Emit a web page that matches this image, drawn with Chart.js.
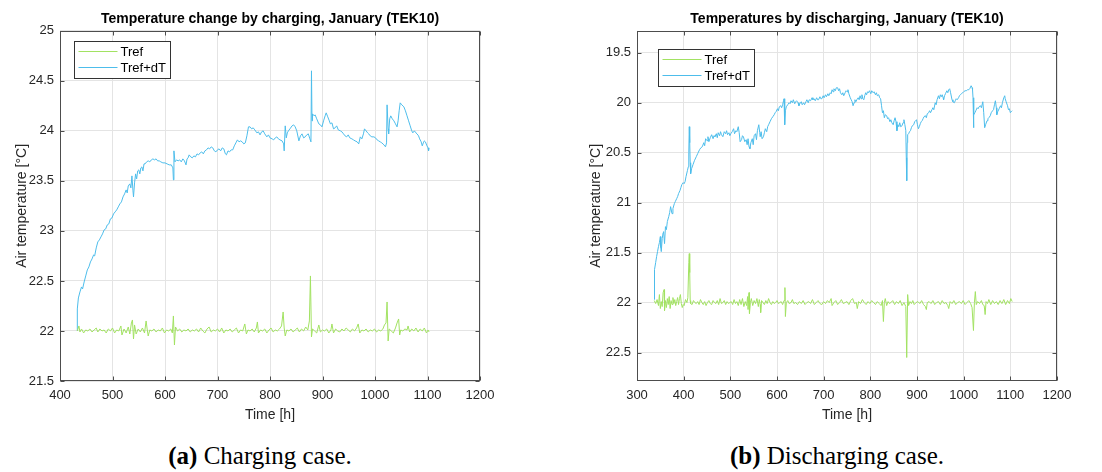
<!DOCTYPE html>
<html>
<head>
<meta charset="utf-8">
<title>TEK10 temperatures</title>
<script src="https://cdn.jsdelivr.net/npm/chart.js@4.4.1/dist/chart.umd.min.js"></script>
<style>
  html, body { margin: 0; padding: 0; background: #fff; overflow: hidden; }
  #page { position: relative; width: 1102px; height: 472px; }
  .panel { position: absolute; top: 0; width: 551px; height: 430px; }
  .caption {
    position: absolute; top: 441px; transform: translateX(-50%);
    font-family: "Liberation Serif", "Times New Roman", serif;
    font-size: 25px; line-height: 30px; color: #000; white-space: nowrap;
  }
</style>
</head>
<body>
<div id="page">
  <div class="panel" style="left:0"><canvas id="chargeChart" width="551" height="430"></canvas></div>
  <div class="panel" style="left:551px"><canvas id="dischargeChart" width="551" height="430"></canvas></div>
  <div class="caption" style="left:260px"><b>(a)</b> Charging case.</div>
  <div class="caption" style="left:837px"><b>(b)</b> Discharging case.</div>
</div>
<script>
// ---- charging case (a) ----
const chargeRefHours = [
  433, 436, 438, 441, 445, 449, 453, 457, 461, 465, 469, 472, 476, 480, 484, 488, 492, 496, 500, 504,
  508, 512, 516, 518, 522, 526, 530, 533, 536, 538, 540, 542, 545, 549, 553, 557, 561, 564, 566, 568,
  571, 575, 579, 583, 587, 591, 595, 599, 603, 607, 611, 614, 616, 618, 620, 624, 628, 632, 636, 640,
  644, 648, 652, 656, 660, 664, 668, 672, 676, 680, 684, 688, 692, 696, 700, 704, 708, 712, 716, 720,
  724, 728, 732, 736, 740, 744, 748, 752, 755, 758, 762, 766, 770, 774, 776, 778, 782, 786, 790, 794,
  798, 802, 806, 810, 814, 818, 822, 825, 827, 829, 832, 836, 840, 844, 848, 852, 856, 860, 864, 868,
  872, 875, 877, 879, 881, 885, 889, 893, 896, 900, 904, 908, 912, 916, 918, 921, 925, 929, 933, 937,
  941, 945, 949, 953, 957, 961, 965, 968, 971, 975, 979, 983, 987, 991, 995, 999, 1003, 1007, 1011, 1015,
  1018, 1021, 1023, 1025, 1027, 1031, 1035, 1039, 1042, 1045, 1047, 1049, 1053, 1057, 1061, 1063, 1066, 1070, 1074, 1078,
  1082, 1086, 1090, 1094, 1098, 1101, 1103
];
const chargeRefTemp = [
  22.00, 22.05, 21.99, 22.02, 21.98, 22.01, 22.00, 22.02, 21.99, 22.01, 22.03, 21.99, 22.02, 22.00, 22.01, 21.98, 22.02, 22.00, 22.03, 21.98,
  22.01, 22.00, 22.05, 21.96, 22.02, 21.98, 22.04, 21.97, 22.08, 22.11, 21.92, 22.06, 21.97, 22.02, 21.99, 22.03, 21.98, 22.10, 22.02, 21.95,
  22.01, 22.00, 22.02, 21.99, 22.01, 22.00, 22.03, 21.98, 22.01, 22.00, 22.02, 21.98, 22.15, 21.86, 22.04, 22.00, 22.02, 21.99, 22.01, 22.00,
  22.02, 21.99, 22.01, 22.00, 22.02, 21.99, 22.03, 22.00, 21.98, 22.02, 22.04, 21.99, 22.01, 22.00, 22.02, 21.99, 22.03, 21.98, 22.01, 22.00,
  22.02, 21.99, 22.01, 22.03, 21.98, 22.01, 22.00, 22.07, 21.97, 22.01, 22.00, 22.02, 21.99, 22.03, 22.09, 21.98, 22.01, 22.00, 22.02, 21.98,
  22.01, 22.03, 21.99, 22.01, 22.00, 22.02, 22.05, 22.19, 22.03, 21.95, 22.01, 22.00, 22.02, 21.99, 22.01, 22.03, 21.99, 22.02, 22.00, 22.04,
  22.01, 22.10, 22.55, 21.94, 22.02, 22.00, 21.98, 22.06, 21.99, 22.01, 22.00, 22.02, 21.98, 22.01, 22.07, 21.98, 22.02, 22.00, 21.99, 22.02,
  22.00, 22.03, 22.01, 21.99, 22.02, 22.00, 22.03, 22.07, 21.98, 22.01, 22.00, 22.02, 21.99, 22.01, 22.00, 22.02, 21.99, 22.01, 22.00, 22.02,
  22.06, 22.08, 22.29, 21.90, 22.02, 22.00, 21.98, 22.03, 22.08, 22.12, 21.96, 22.01, 22.00, 22.02, 22.01, 22.05, 21.99, 22.02, 22.00, 22.03,
  21.99, 22.02, 22.00, 22.03, 21.98, 22.01, 21.99
];
const chargeDtHours = [
  433, 433, 435, 438, 441, 443, 446, 449, 452, 455, 458, 461, 464, 466, 469, 472, 475, 478, 481, 484,
  487, 490, 493, 496, 499, 502, 505, 508, 511, 514, 517, 520, 523, 526, 528, 530, 533, 535, 537, 539,
  540, 542, 544, 546, 548, 550, 552, 554, 556, 558, 560, 562, 565, 568, 571, 574, 577, 580, 583, 586,
  589, 592, 596, 600, 604, 608, 612, 615, 616, 617, 619, 622, 625, 628, 631, 634, 637, 640, 642, 644,
  646, 649, 652, 655, 658, 661, 664, 667, 670, 673, 676, 679, 682, 685, 688, 691, 694, 697, 700, 703,
  706, 709, 712, 715, 717, 720, 723, 726, 729, 732, 735, 738, 741, 744, 747, 750, 753, 756, 759, 762,
  765, 768, 771, 775, 778, 781, 784, 787, 790, 794, 797, 800, 804, 807, 810, 813, 816, 819, 823, 826,
  827, 829, 831, 833, 835, 838, 842, 845, 848, 851, 855, 858, 861, 864, 867, 870, 873, 876, 878, 879,
  880, 881, 884, 886, 889, 893, 896, 899, 902, 905, 907, 910, 913, 915, 918, 921, 924, 927, 930, 934,
  937, 940, 943, 946, 949, 952, 956, 959, 962, 966, 969, 972, 975, 978, 980, 983, 986, 988, 991, 994,
  998, 1001, 1004, 1007, 1010, 1013, 1017, 1020, 1022, 1023, 1025, 1026, 1028, 1030, 1033, 1036, 1039, 1042, 1044, 1046,
  1048, 1051, 1055, 1058, 1061, 1064, 1067, 1070, 1072, 1075, 1078, 1080, 1083, 1085, 1088, 1090, 1092, 1094, 1096, 1099,
  1101, 1102, 1103
];
const chargeDtTemp = [
  22.00, 22.22, 22.33, 22.39, 22.44, 22.42, 22.49, 22.55, 22.61, 22.64, 22.69, 22.72, 22.76, 22.75, 22.83, 22.89, 22.91, 22.94, 22.97, 23.01,
  23.02, 23.06, 23.07, 23.12, 23.13, 23.17, 23.19, 23.21, 23.24, 23.27, 23.29, 23.34, 23.37, 23.41, 23.38, 23.45, 23.47, 23.43, 23.55, 23.40,
  23.34, 23.48, 23.57, 23.52, 23.60, 23.61, 23.57, 23.63, 23.64, 23.60, 23.67, 23.67, 23.69, 23.70, 23.69, 23.71, 23.72, 23.71, 23.72, 23.70,
  23.70, 23.69, 23.68, 23.68, 23.67, 23.66, 23.66, 23.63, 23.51, 23.80, 23.69, 23.71, 23.70, 23.71, 23.69, 23.72, 23.70, 23.66, 23.72, 23.73,
  23.76, 23.74, 23.73, 23.75, 23.74, 23.77, 23.76, 23.78, 23.79, 23.77, 23.80, 23.81, 23.83, 23.82, 23.84, 23.83, 23.80, 23.79, 23.81, 23.82,
  23.80, 23.83, 23.82, 23.77, 23.76, 23.80, 23.79, 23.81, 23.81, 23.85, 23.88, 23.91, 23.89, 23.90, 23.89, 23.87, 23.88, 23.95, 24.04, 24.04,
  24.02, 24.03, 24.01, 23.98, 23.99, 23.96, 23.99, 24.00, 23.97, 23.94, 23.96, 23.93, 23.92, 23.91, 23.93, 23.94, 23.92, 23.91, 23.90, 23.87,
  23.80, 24.05, 23.93, 23.98, 24.00, 24.02, 24.05, 24.06, 24.04, 24.00, 23.90, 23.95, 23.97, 23.93, 23.94, 23.96, 23.97, 23.92, 23.89, 24.60,
  24.10, 24.17, 24.15, 24.16, 24.12, 24.07, 24.06, 24.04, 24.10, 24.15, 24.18, 24.14, 24.10, 24.07, 24.08, 24.02, 24.03, 24.05, 24.01, 24.00,
  23.99, 23.97, 23.95, 23.94, 23.96, 23.93, 23.92, 23.91, 23.90, 23.89, 23.87, 23.94, 23.92, 23.97, 24.02, 24.00, 23.98, 23.97, 23.95, 23.94,
  23.94, 23.93, 23.91, 23.90, 23.89, 23.88, 23.86, 23.84, 23.88, 24.26, 24.02, 23.97, 24.12, 24.15, 24.12, 24.10, 24.07, 24.04, 24.10, 24.20,
  24.28, 24.26, 24.24, 24.20, 24.15, 24.10, 24.05, 24.00, 23.98, 24.00, 23.98, 23.97, 23.95, 23.92, 23.89, 23.85, 23.88, 23.90, 23.89, 23.85,
  23.83, 23.80, 23.83
];

// ---- discharging case (b) ----
const dischargeRefHours = [
  337, 340, 343, 346, 348, 350, 352, 354, 356, 358, 359, 361, 363, 365, 367, 369, 371, 373, 375, 377,
  379, 381, 383, 385, 387, 389, 391, 393, 395, 397, 399, 401, 404, 407, 409, 411, 412, 413, 414, 415,
  418, 421, 424, 427, 430, 433, 436, 439, 442, 445, 448, 451, 454, 457, 460, 463, 466, 469, 472, 475,
  478, 481, 484, 487, 490, 493, 496, 499, 502, 505, 508, 511, 514, 517, 520, 523, 526, 529, 532, 535,
  537, 538, 540, 541, 543, 545, 548, 551, 554, 557, 560, 562, 564, 565, 567, 570, 573, 576, 579, 582,
  585, 588, 591, 594, 597, 600, 603, 606, 609, 612, 615, 617, 618, 620, 623, 626, 630, 633, 636, 640,
  644, 648, 652, 656, 660, 664, 668, 672, 676, 680, 684, 688, 692, 696, 700, 704, 708, 712, 716, 718,
  722, 726, 730, 734, 738, 742, 746, 750, 754, 758, 762, 766, 770, 772, 775, 779, 783, 787, 791, 795,
  799, 803, 807, 811, 815, 819, 823, 826, 828, 830, 832, 835, 838, 841, 844, 848, 852, 856, 860, 864,
  868, 872, 876, 878, 880, 882, 885, 888, 891, 894, 898, 902, 906, 910, 914, 918, 920, 922, 926, 930,
  934, 938, 942, 946, 950, 954, 958, 962, 966, 968, 971, 975, 979, 983, 987, 991, 995, 999, 1003, 1007,
  1011, 1015, 1018, 1021, 1023, 1025, 1027, 1030, 1034, 1038, 1041, 1044, 1046, 1048, 1051, 1054, 1058, 1062, 1066, 1070,
  1074, 1078, 1082, 1086, 1090, 1094, 1098, 1101, 1104
];
const dischargeRefTemp = [
  21.98, 22.01, 21.97, 22.03, 21.92, 22.06, 21.99, 22.04, 21.90, 21.87, 22.08, 21.98, 22.05, 21.96, 22.02, 21.94, 22.06, 21.98, 22.02, 21.95,
  22.01, 21.97, 22.03, 21.99, 21.95, 22.02, 21.96, 21.92, 22.01, 22.05, 22.02, 22.03, 21.97, 22.00, 21.95, 21.60, 21.51, 21.70, 21.98, 22.01,
  22.02, 21.98, 22.00, 22.01, 21.99, 22.02, 21.97, 22.00, 22.02, 21.99, 22.03, 22.00, 21.98, 22.01, 22.02, 21.98, 22.00, 22.01, 21.98, 22.02,
  21.96, 22.01, 22.00, 21.98, 22.02, 21.99, 22.01, 22.00, 21.99, 22.02, 21.97, 22.01, 21.99, 22.03, 21.97, 22.02, 21.96, 22.04, 21.99, 22.03,
  21.94, 22.07, 21.90, 22.11, 22.00, 21.96, 22.03, 21.98, 22.01, 21.96, 22.04, 21.97, 22.02, 22.10, 21.98, 22.00, 22.02, 21.98, 22.01, 21.96,
  22.00, 22.02, 21.99, 22.01, 22.00, 21.98, 22.01, 22.00, 21.99, 22.02, 21.98, 21.85, 22.14, 22.00, 21.98, 22.01, 22.00, 21.97, 22.01, 22.00,
  22.02, 21.99, 22.01, 21.98, 22.02, 22.00, 21.99, 22.01, 21.97, 22.02, 22.00, 21.98, 22.01, 22.02, 21.99, 22.01, 21.98, 22.00, 21.96, 22.03,
  22.00, 21.98, 22.02, 22.00, 21.97, 22.01, 22.00, 21.99, 22.02, 21.98, 21.96, 22.01, 22.00, 22.06, 21.99, 22.01, 21.97, 22.00, 22.02, 21.99,
  22.01, 21.98, 22.00, 22.02, 21.99, 22.01, 22.03, 21.98, 22.19, 22.00, 21.96, 22.03, 21.99, 22.01, 22.00, 21.98, 22.02, 21.99, 22.01, 21.98,
  22.03, 22.00, 22.04, 22.55, 21.92, 22.03, 21.99, 22.01, 21.98, 22.02, 22.00, 21.99, 22.01, 21.98, 22.02, 22.04, 22.07, 22.00, 21.99, 22.01,
  21.98, 22.02, 22.00, 21.99, 22.02, 21.98, 22.01, 22.00, 22.03, 22.06, 21.99, 22.01, 21.98, 22.02, 22.00, 21.99, 22.01, 21.98, 22.02, 22.00,
  21.98, 22.01, 22.05, 22.28, 22.00, 21.89, 22.02, 21.99, 22.01, 21.98, 22.02, 22.03, 22.12, 21.99, 22.01, 21.97, 22.02, 21.98, 22.01, 21.99,
  22.02, 21.98, 22.01, 21.97, 22.02, 21.98, 22.01, 21.96, 21.99
];
const dischargeDtHours = [
  337, 337, 338, 340, 342, 344, 346, 348, 350, 351, 352, 354, 356, 357, 359, 361, 363, 365, 368, 370,
  372, 375, 377, 380, 382, 385, 387, 389, 392, 394, 396, 399, 401, 403, 405, 408, 410, 411, 412, 413,
  414, 415, 417, 420, 423, 427, 430, 434, 437, 440, 443, 445, 447, 450, 452, 454, 457, 460, 463, 465,
  467, 470, 472, 474, 477, 479, 481, 484, 487, 490, 492, 494, 497, 499, 501, 504, 507, 509, 512, 514,
  517, 519, 521, 524, 526, 528, 531, 534, 536, 538, 540, 542, 544, 547, 549, 551, 554, 556, 558, 561,
  563, 564, 566, 568, 571, 573, 575, 578, 580, 582, 585, 588, 591, 594, 596, 598, 601, 603, 605, 608,
  610, 612, 614, 615, 616, 617, 618, 620, 623, 626, 628, 630, 633, 635, 638, 640, 642, 645, 647, 649,
  652, 654, 657, 659, 662, 664, 667, 669, 672, 675, 677, 679, 682, 685, 687, 689, 692, 694, 696, 699,
  701, 704, 706, 709, 711, 714, 716, 718, 720, 722, 725, 727, 730, 732, 734, 736, 739, 741, 743, 746,
  748, 750, 752, 754, 757, 759, 761, 763, 765, 767, 769, 771, 774, 776, 778, 780, 782, 784, 786, 788,
  790, 792, 794, 796, 798, 801, 803, 806, 808, 811, 813, 815, 818, 820, 822, 824, 826, 828, 830, 832,
  835, 837, 839, 842, 844, 846, 849, 851, 853, 855, 857, 859, 861, 863, 865, 868, 870, 872, 874, 876,
  877, 878, 879, 880, 882, 884, 886, 888, 890, 893, 895, 897, 899, 901, 903, 905, 907, 909, 911, 913,
  915, 918, 920, 922, 925, 927, 929, 932, 934, 936, 939, 941, 943, 946, 948, 950, 952, 954, 956, 957,
  959, 961, 964, 966, 968, 970, 972, 975, 977, 980, 982, 984, 986, 989, 991, 993, 995, 998, 1000, 1003,
  1006, 1008, 1011, 1013, 1016, 1018, 1019, 1020, 1021, 1022, 1024, 1026, 1029, 1031, 1033, 1036, 1038, 1041, 1043, 1045,
  1047, 1050, 1052, 1054, 1057, 1059, 1062, 1064, 1066, 1068, 1070, 1071, 1073, 1076, 1079, 1081, 1083, 1086, 1088, 1089,
  1091, 1094, 1096, 1098, 1100, 1102, 1104
];
const dischargeDtTemp = [
  21.97, 21.80, 21.67, 21.60, 21.54, 21.49, 21.44, 21.40, 21.34, 21.45, 21.49, 21.36, 21.30, 21.29, 21.41, 21.24, 21.27, 21.19, 21.14, 21.10,
  21.04, 21.11, 21.06, 21.01, 20.99, 20.96, 20.94, 20.91, 20.88, 20.85, 20.82, 20.80, 20.81, 20.79, 20.74, 20.68, 20.64, 20.50, 20.24, 20.40,
  20.60, 20.71, 20.66, 20.62, 20.58, 20.54, 20.51, 20.47, 20.45, 20.44, 20.40, 20.43, 20.36, 20.38, 20.34, 20.39, 20.35, 20.32, 20.36, 20.33,
  20.34, 20.31, 20.35, 20.30, 20.33, 20.29, 20.32, 20.34, 20.29, 20.31, 20.28, 20.32, 20.30, 20.33, 20.31, 20.29, 20.26, 20.31, 20.28, 20.29,
  20.24, 20.30, 20.39, 20.37, 20.33, 20.34, 20.39, 20.37, 20.42, 20.36, 20.44, 20.46, 20.40, 20.36, 20.42, 20.33, 20.31, 20.37, 20.28, 20.22,
  20.30, 20.34, 20.29, 20.36, 20.34, 20.30, 20.26, 20.29, 20.24, 20.22, 20.19, 20.16, 20.14, 20.12, 20.10, 20.09, 20.06, 20.08, 20.04, 20.03,
  20.05, 20.02, 19.98, 19.96, 20.05, 20.22, 20.08, 20.04, 20.02, 20.00, 20.01, 19.98, 20.00, 19.97, 20.01, 19.99, 19.98, 20.00, 20.03, 20.01,
  19.99, 20.02, 20.00, 20.02, 19.99, 19.97, 20.00, 19.97, 19.98, 19.95, 19.97, 19.96, 19.98, 19.95, 19.97, 19.97, 19.94, 19.96, 19.96, 19.93,
  19.95, 19.92, 19.94, 19.91, 19.93, 19.90, 19.91, 19.87, 19.89, 19.86, 19.88, 19.85, 19.85, 19.88, 19.86, 19.90, 19.92, 19.90, 19.93, 19.90,
  19.88, 19.89, 19.87, 19.91, 19.95, 19.97, 19.99, 20.03, 20.00, 19.97, 19.99, 19.97, 19.95, 19.97, 19.93, 19.96, 19.92, 19.96, 19.97, 19.93,
  19.90, 19.92, 19.89, 19.90, 19.88, 19.91, 19.88, 19.90, 19.89, 19.92, 19.90, 19.93, 19.92, 19.95, 19.96, 20.03, 20.10, 20.08, 20.15, 20.12,
  20.13, 20.16, 20.15, 20.19, 20.17, 20.20, 20.22, 20.18, 20.15, 20.19, 20.28, 20.22, 20.24, 20.20, 20.24, 20.23, 20.20, 20.17, 20.22, 20.28,
  20.55, 20.78, 20.40, 20.32, 20.31, 20.29, 20.28, 20.25, 20.23, 20.22, 20.19, 20.18, 20.17, 20.22, 20.26, 20.24, 20.21, 20.19, 20.18, 20.16,
  20.14, 20.13, 20.15, 20.11, 20.10, 20.08, 20.10, 20.07, 20.05, 20.07, 20.00, 20.02, 19.97, 19.93, 19.96, 19.92, 19.94, 19.92, 19.95, 19.97,
  19.93, 19.91, 19.88, 19.90, 19.87, 19.86, 19.90, 19.97, 19.99, 20.00, 19.98, 19.96, 19.97, 19.95, 19.93, 19.92, 19.91, 19.90, 19.89, 19.88,
  19.88, 19.87, 19.87, 19.86, 19.83, 19.85, 19.87, 19.95, 20.25, 20.12, 20.10, 20.08, 20.05, 20.06, 20.04, 20.03, 20.05, 19.99, 20.10, 20.25,
  20.22, 20.18, 20.16, 20.15, 20.13, 20.10, 20.08, 20.07, 20.02, 19.98, 20.05, 20.12, 20.09, 20.06, 20.03, 20.05, 20.00, 19.95, 19.93, 19.96,
  19.99, 20.03, 20.07, 20.06, 20.10, 20.09, 20.08
];

const GREEN = '#a2e262';
const BLUE = '#4dbdeb';
const AXIS_TEXT = '#262626';
const FONT = '"Liberation Sans", Arial, Helvetica, sans-serif';

function toPoints(hours, temps) {
  return hours.map((h, i) => ({ x: h, y: temps[i] }));
}

// MATLAB-like box, inward ticks and legend inside the axes
const matlabFrame = {
  id: 'matlabFrame',
  afterDatasetsDraw(chart, args, opts) {
    const { ctx, chartArea: a, scales: { x, y } } = chart;
    const L = Math.round(a.left) + 0.5, R = Math.round(a.right) - 0.5;
    const T = Math.round(a.top) + 0.5, B = Math.round(a.bottom) - 0.5;
    ctx.save();
    ctx.strokeStyle = '#4d4d4d';
    ctx.lineWidth = 1;
    ctx.beginPath();
    x.ticks.forEach(t => {
      const px = Math.round(x.getPixelForValue(t.value)) + 0.5;
      ctx.moveTo(px, B); ctx.lineTo(px, B - 4);
      ctx.moveTo(px, T); ctx.lineTo(px, T + 4);
    });
    y.ticks.forEach(t => {
      const py = Math.round(y.getPixelForValue(t.value)) + 0.5;
      ctx.moveTo(L, py); ctx.lineTo(L + 4, py);
      ctx.moveTo(R, py); ctx.lineTo(R - 4, py);
    });
    ctx.stroke();
    ctx.strokeRect(L, T, R - L, B - T);

    // legend
    const lx = Math.round(a.left + opts.dx) + 0.5;
    const ly = Math.round(a.top + opts.dy) + 0.5;
    ctx.fillStyle = '#fff';
    ctx.fillRect(lx, ly, 96, 37);
    ctx.strokeStyle = '#333';
    ctx.strokeRect(lx, ly, 96, 37);
    ctx.font = '13px ' + FONT;
    ctx.textBaseline = 'middle';
    chart.data.datasets.forEach((ds, i) => {
      const yy = ly + 10 + i * 16;
      ctx.strokeStyle = ds.borderColor;
      ctx.beginPath();
      ctx.moveTo(lx + 4, yy); ctx.lineTo(lx + 43, yy);
      ctx.stroke();
      ctx.fillStyle = '#000';
      ctx.fillText(ds.label, lx + 46, yy + 1);
    });
    ctx.restore();
  }
};

function makeChart(id, cfg) {
  return new Chart(document.getElementById(id), {
    type: 'line',
    data: {
      datasets: [
        { label: 'Tref', data: toPoints(cfg.refHours, cfg.refTemp), borderColor: GREEN, borderWidth: 1, pointRadius: 0, tension: 0 },
        { label: 'Tref+dT', data: toPoints(cfg.dtHours, cfg.dtTemp), borderColor: BLUE, borderWidth: 1, pointRadius: 0, tension: 0 }
      ]
    },
    options: {
      responsive: false,
      animation: false,
      layout: { padding: { left: 0, right: cfg.padRight, top: 0, bottom: 0 } },
      plugins: {
        legend: { display: false },
        tooltip: { enabled: false },
        title: {
          display: true,
          text: cfg.title,
          fullSize: false,
          color: '#000',
          font: { family: FONT, size: 14, weight: 'bold' },
          padding: { top: 11, bottom: 3 }
        },
        matlabFrame: { dx: cfg.legendDx, dy: cfg.legendDy }
      },
      scales: {
        x: {
          type: 'linear',
          min: cfg.xMin, max: 1200,
          ticks: { stepSize: 100, color: AXIS_TEXT, font: { family: FONT, size: 13 }, padding: 7, maxRotation: 0, callback: v => String(v) },
          grid: { color: '#e4e4e4', drawTicks: false },
          border: { display: false },
          title: { display: true, text: 'Time [h]', color: AXIS_TEXT, font: { family: FONT, size: 14 }, padding: { top: 0, bottom: 6 } },
          afterFit: s => { s.height = 49; }
        },
        y: {
          type: 'linear',
          reverse: cfg.reverse,
          min: cfg.yMin, max: cfg.yMax,
          ticks: { stepSize: 0.5, includeBounds: false, color: AXIS_TEXT, font: { family: FONT, size: 13 }, padding: 6, callback: v => String(Math.round(v * 10) / 10) },
          grid: { color: '#e4e4e4', drawTicks: false },
          border: { display: false },
          title: { display: true, text: 'Air temperature [°C]', color: AXIS_TEXT, font: { family: FONT, size: 14 }, padding: { top: cfg.yTitlePad, bottom: 0 } },
          afterFit: s => { s.width = cfg.yWidth; }
        }
      }
    },
    plugins: [matlabFrame]
  });
}

makeChart('chargeChart', {
  title: 'Temperature change by charging, January (TEK10)',
  refHours: chargeRefHours, refTemp: chargeRefTemp,
  dtHours: chargeDtHours, dtTemp: chargeDtTemp,
  xMin: 400, yMin: 21.5, yMax: 25, reverse: false,
  yWidth: 60, yTitlePad: 14, padRight: 71,
  legendDx: 14, legendDy: 10
});

makeChart('dischargeChart', {
  title: 'Temperatures by discharging, January (TEK10)',
  refHours: dischargeRefHours, refTemp: dischargeRefTemp,
  dtHours: dischargeDtHours, dtTemp: dischargeDtTemp,
  xMin: 300, yMin: 19.28, yMax: 22.785, reverse: true,
  yWidth: 86, yTitlePad: 37, padRight: 45,
  legendDx: 21, legendDy: 18
});
</script>
</body>
</html>
